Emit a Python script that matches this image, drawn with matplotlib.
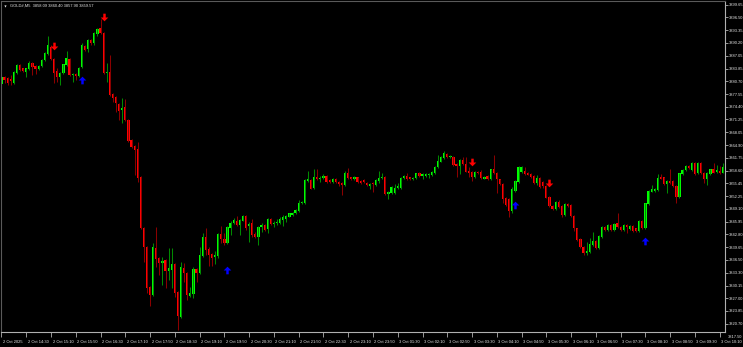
import numpy as np
import matplotlib.pyplot as plt
from matplotlib.path import Path
from matplotlib.transforms import ScaledTranslation

# GOLD#, M5 candles, 2 Oct 2025 13:50 onwards (one row = 10 bars)
opens = [
    3879.94, 3881.67, 3881.42, 3881.18, 3880.35, 3882.83, 3884.64, 3883.90, 3883.07, 3883.65,
    3885.14, 3884.56, 3883.65, 3884.48, 3885.96, 3887.36, 3889.26, 3886.13, 3883.32, 3881.84,
    3882.66, 3884.72, 3886.13, 3882.17, 3882.50, 3882.00, 3884.31, 3889.43, 3888.60, 3890.91,
    3890.09, 3892.31, 3893.80, 3892.56, 3882.83, 3883.07, 3877.55, 3876.89, 3875.07, 3873.59,
    3874.25, 3871.11, 3866.16, 3864.68, 3863.85, 3856.92, 3844.47, 3839.77, 3829.70, 3827.81,
    3839.36, 3836.88, 3835.64, 3836.47, 3833.83, 3834.00, 3835.48, 3828.63, 3822.45, 3834.58,
    3833.18, 3827.65, 3827.98, 3834.16, 3833.34, 3837.46, 3842.25, 3839.11, 3837.88, 3837.14,
    3837.46, 3842.83, 3841.59, 3840.76, 3844.31, 3845.71, 3846.21, 3845.05, 3846.21, 3847.36,
    3844.89, 3845.55, 3842.91, 3842.25, 3844.56, 3845.14, 3844.07, 3846.54, 3845.38, 3845.55,
    3845.71, 3846.37, 3846.70, 3847.20, 3847.61, 3848.02, 3848.60, 3850.50, 3850.50, 3856.11,
    3856.27, 3854.21, 3856.93, 3856.44, 3856.77, 3857.18, 3856.27, 3855.78, 3856.60, 3855.78,
    3855.45, 3855.03, 3858.09, 3856.93, 3856.44, 3856.93, 3856.02, 3856.27, 3855.61, 3854.87,
    3855.61, 3855.03, 3856.02, 3856.68, 3856.93, 3852.81, 3853.14, 3853.14, 3854.21, 3854.21,
    3856.68, 3857.26, 3856.93, 3856.44, 3856.85, 3858.09, 3857.26, 3857.26, 3857.43, 3857.51,
    3857.92, 3859.57, 3860.81, 3861.63, 3862.71, 3861.96, 3861.88, 3860.23, 3859.74, 3861.22,
    3860.23, 3858.58, 3858.33, 3856.93, 3858.33, 3858.33, 3856.60, 3857.26, 3856.44, 3858.91,
    3858.09, 3856.44, 3855.28, 3851.73, 3851.49, 3848.68, 3853.63, 3855.86, 3858.33, 3858.58,
    3858.09, 3857.76, 3857.26, 3855.61, 3856.68, 3855.86, 3854.79, 3851.98, 3849.84, 3849.01,
    3850.91, 3849.84, 3847.61, 3850.33, 3850.08, 3847.36, 3844.31, 3841.59, 3839.77, 3838.29,
    3838.54, 3840.19, 3841.26, 3839.36, 3842.25, 3844.56, 3843.90, 3845.14, 3843.90, 3845.55,
    3844.72, 3843.90, 3845.14, 3844.07, 3844.89, 3844.31, 3843.73, 3846.21, 3844.31, 3850.33,
    3853.38, 3853.63, 3853.80, 3857.10, 3856.93, 3855.28, 3856.11, 3856.02, 3854.79, 3852.15,
    3857.76, 3858.75, 3859.74, 3858.75, 3860.40, 3857.92, 3860.40, 3858.09, 3856.60, 3857.76,
    3858.91, 3858.25, 3858.58, 3858.09,
]
highs = [
    3882.10, 3881.90, 3881.67, 3882.25, 3883.30, 3885.00, 3884.90, 3884.10, 3884.10, 3885.60,
    3885.40, 3884.80, 3884.80, 3886.20, 3887.90, 3891.90, 3889.60, 3886.40, 3883.90, 3883.10,
    3885.10, 3888.19, 3886.40, 3882.80, 3882.80, 3884.30, 3890.25, 3889.70, 3891.10, 3891.20,
    3892.80, 3893.80, 3896.03, 3892.80, 3885.14, 3887.20, 3877.80, 3877.10, 3875.30, 3876.48,
    3876.23, 3871.40, 3866.40, 3864.90, 3865.75, 3857.20, 3844.70, 3840.00, 3830.00, 3840.76,
    3844.55, 3837.10, 3837.29, 3836.70, 3839.36, 3839.36, 3835.70, 3828.90, 3836.06, 3835.82,
    3833.40, 3829.87, 3834.82, 3834.40, 3839.77, 3843.24, 3844.31, 3839.77, 3838.10, 3838.78,
    3843.10, 3844.89, 3843.07, 3844.80, 3846.00, 3846.79, 3847.36, 3846.60, 3847.60, 3847.60,
    3845.96, 3846.54, 3843.49, 3844.80, 3845.55, 3845.40, 3846.80, 3846.79, 3846.13, 3846.54,
    3847.03, 3847.61, 3847.61, 3848.20, 3848.40, 3849.10, 3851.32, 3851.00, 3856.50, 3858.58,
    3856.50, 3858.91, 3858.91, 3857.26, 3857.76, 3857.40, 3856.50, 3856.80, 3856.80, 3856.00,
    3855.70, 3858.42, 3859.24, 3857.10, 3857.30, 3857.10, 3856.20, 3856.44, 3855.80, 3855.50,
    3855.80, 3856.50, 3858.50, 3858.09, 3857.20, 3853.60, 3854.79, 3855.28, 3855.45, 3857.10,
    3857.50, 3858.09, 3857.10, 3857.10, 3858.10, 3858.30, 3858.00, 3857.90, 3858.00, 3858.50,
    3859.80, 3862.46, 3862.10, 3863.45, 3863.04, 3862.50, 3862.10, 3860.50, 3861.50, 3861.88,
    3861.88, 3859.57, 3858.60, 3858.60, 3858.60, 3858.75, 3857.30, 3857.50, 3859.10, 3862.46,
    3858.30, 3856.60, 3855.50, 3852.00, 3851.70, 3854.62, 3856.20, 3859.74, 3859.80, 3859.41,
    3858.30, 3858.00, 3857.50, 3857.51, 3856.90, 3856.11, 3855.00, 3852.20, 3850.00, 3851.10,
    3851.32, 3850.00, 3850.50, 3850.50, 3850.30, 3847.60, 3844.50, 3841.80, 3840.00, 3841.01,
    3841.84, 3843.49, 3841.50, 3842.60, 3844.80, 3844.80, 3845.40, 3845.40, 3845.71, 3848.02,
    3844.90, 3845.40, 3845.40, 3845.10, 3845.10, 3844.50, 3846.40, 3846.40, 3850.70, 3853.80,
    3855.03, 3854.30, 3857.76, 3857.76, 3857.10, 3856.30, 3858.91, 3856.20, 3855.00, 3858.10,
    3858.90, 3859.90, 3859.90, 3860.60, 3860.60, 3860.60, 3860.60, 3858.30, 3858.30, 3859.10,
    3860.56, 3859.98, 3859.74, 3860.40,
]
lows = [
    3879.50, 3880.19, 3879.77, 3879.77, 3880.10, 3882.60, 3883.20, 3882.90, 3881.84, 3883.40,
    3882.25, 3882.50, 3883.40, 3884.20, 3885.70, 3887.10, 3885.90, 3880.35, 3880.60, 3879.77,
    3882.40, 3884.50, 3882.00, 3880.60, 3881.01, 3881.70, 3884.00, 3888.20, 3888.02, 3889.80,
    3889.80, 3892.00, 3892.30, 3882.50, 3880.60, 3877.00, 3875.65, 3873.18, 3871.11, 3870.29,
    3870.90, 3865.70, 3864.30, 3857.50, 3855.85, 3844.20, 3836.06, 3828.22, 3825.08, 3827.50,
    3834.82, 3832.76, 3830.28, 3829.46, 3831.52, 3829.46, 3827.39, 3819.14, 3822.03, 3831.11,
    3826.58, 3827.40, 3826.99, 3831.11, 3833.10, 3837.20, 3837.71, 3834.99, 3834.99, 3835.49,
    3836.89, 3840.60, 3840.19, 3840.50, 3842.66, 3845.50, 3844.90, 3842.66, 3846.00, 3843.90,
    3841.01, 3842.25, 3841.84, 3840.19, 3843.49, 3843.70, 3843.07, 3845.10, 3844.72, 3845.14,
    3845.38, 3844.89, 3845.96, 3847.00, 3847.40, 3847.80, 3848.40, 3850.30, 3850.30, 3855.86,
    3853.96, 3854.00, 3856.27, 3855.86, 3856.60, 3855.60, 3855.61, 3855.45, 3855.60, 3854.87,
    3852.56, 3854.80, 3856.50, 3856.20, 3856.20, 3855.60, 3855.30, 3855.50, 3854.70, 3854.13,
    3853.30, 3854.80, 3855.45, 3856.44, 3852.60, 3851.65, 3852.90, 3852.90, 3853.96, 3854.00,
    3856.50, 3856.27, 3856.20, 3856.20, 3856.60, 3857.00, 3856.50, 3857.00, 3856.68, 3857.30,
    3857.70, 3859.30, 3860.60, 3861.40, 3861.80, 3861.70, 3859.70, 3857.10, 3857.76, 3860.00,
    3858.17, 3857.10, 3856.11, 3856.70, 3857.70, 3856.40, 3856.40, 3856.20, 3856.20, 3857.70,
    3853.14, 3855.00, 3850.66, 3849.80, 3847.03, 3848.02, 3853.40, 3855.60, 3858.10, 3857.50,
    3857.40, 3856.70, 3855.40, 3855.03, 3854.40, 3854.21, 3851.70, 3849.60, 3848.90, 3848.80,
    3849.26, 3847.20, 3847.40, 3849.70, 3847.10, 3843.73, 3841.20, 3839.40, 3837.71, 3837.71,
    3838.12, 3840.00, 3839.10, 3839.10, 3842.00, 3843.70, 3843.70, 3843.70, 3843.70, 3844.30,
    3843.70, 3843.70, 3843.07, 3843.80, 3843.50, 3843.40, 3843.50, 3844.10, 3844.10, 3850.10,
    3853.20, 3853.40, 3853.60, 3856.40, 3855.00, 3853.14, 3855.40, 3854.60, 3850.50, 3851.90,
    3857.50, 3858.50, 3858.90, 3858.50, 3857.50, 3857.70, 3857.70, 3855.45, 3855.03, 3857.50,
    3857.90, 3858.00, 3857.76, 3857.90,
]
closes = [
    3881.84, 3881.01, 3880.35, 3880.68, 3883.07, 3884.72, 3883.49, 3883.16, 3883.90, 3885.30,
    3884.31, 3883.82, 3884.56, 3885.96, 3887.61, 3889.67, 3886.13, 3882.83, 3881.67, 3882.83,
    3884.89, 3886.37, 3882.25, 3882.50, 3882.00, 3884.07, 3889.67, 3888.44, 3890.91, 3890.09,
    3892.56, 3893.55, 3892.56, 3882.83, 3883.07, 3877.30, 3876.48, 3875.24, 3873.42, 3874.00,
    3871.11, 3865.99, 3864.51, 3863.69, 3856.68, 3844.47, 3839.77, 3829.46, 3827.81, 3839.60,
    3836.63, 3835.64, 3836.30, 3833.83, 3834.40, 3835.48, 3828.38, 3822.61, 3834.82, 3833.18,
    3827.81, 3828.22, 3834.16, 3833.34, 3837.71, 3842.25, 3838.95, 3837.71, 3836.89, 3837.71,
    3842.83, 3841.59, 3840.60, 3844.56, 3845.71, 3846.37, 3845.14, 3846.37, 3847.36, 3844.31,
    3845.38, 3842.66, 3842.25, 3844.56, 3845.14, 3843.90, 3846.54, 3845.38, 3845.71, 3845.96,
    3846.54, 3847.03, 3847.36, 3848.02, 3848.19, 3848.85, 3850.66, 3850.83, 3856.27, 3856.44,
    3854.05, 3856.93, 3856.44, 3856.85, 3857.34, 3855.86, 3855.86, 3856.60, 3855.78, 3855.28,
    3855.03, 3858.09, 3856.68, 3856.44, 3857.10, 3855.86, 3855.53, 3855.69, 3854.95, 3855.28,
    3855.20, 3856.27, 3856.85, 3857.10, 3852.81, 3853.38, 3854.46, 3854.21, 3854.79, 3856.85,
    3857.26, 3856.60, 3856.44, 3856.85, 3857.92, 3857.26, 3857.84, 3857.67, 3857.76, 3858.33,
    3859.57, 3861.06, 3861.88, 3862.87, 3862.05, 3862.29, 3859.98, 3859.74, 3861.22, 3860.23,
    3858.33, 3858.09, 3857.10, 3858.33, 3857.92, 3856.68, 3857.10, 3856.44, 3858.91, 3857.92,
    3856.44, 3855.28, 3851.49, 3850.00, 3848.68, 3853.96, 3856.02, 3859.57, 3859.57, 3857.76,
    3857.59, 3856.93, 3855.61, 3856.68, 3854.62, 3854.79, 3851.90, 3849.84, 3849.18, 3850.91,
    3849.51, 3847.61, 3850.33, 3849.92, 3847.36, 3844.31, 3841.42, 3839.61, 3838.29, 3838.78,
    3840.43, 3841.26, 3839.36, 3842.41, 3844.56, 3843.90, 3845.14, 3843.90, 3845.38, 3844.56,
    3843.90, 3845.14, 3844.72, 3844.89, 3843.73, 3843.65, 3846.21, 3844.31, 3850.50, 3853.63,
    3853.96, 3854.13, 3856.68, 3856.60, 3855.28, 3856.11, 3855.61, 3854.79, 3852.15, 3857.92,
    3858.75, 3859.74, 3859.16, 3860.40, 3857.76, 3860.40, 3857.92, 3856.44, 3858.09, 3858.91,
    3858.09, 3858.75, 3857.92, 3859.57,
]

# signal arrows (bar index, price)
sell_bars = [17, 33, 152, 177]
sell_prices = [3889.43, 3896.73, 3860.80, 3855.53]
buy_bars = [26, 73, 166, 208]
buy_prices = [3881.02, 3834.00, 3850.08, 3841.17]

price_labels = [3899.65, 3896.50, 3893.35, 3890.20, 3887.05, 3883.85, 3880.70, 3877.55,
                3874.40, 3871.25, 3868.05, 3864.90, 3861.75, 3858.60, 3855.45, 3852.25,
                3849.10, 3845.95, 3842.80, 3839.65, 3836.50, 3833.30, 3830.15, 3827.00,
                3823.85, 3820.70]
bottom_price_label = 3817.50

time_labels = ["2 Oct 2025", "2 Oct 14:30", "2 Oct 15:10", "2 Oct 15:50", "2 Oct 16:30",
               "2 Oct 17:10", "2 Oct 17:50", "2 Oct 18:30", "2 Oct 19:10", "2 Oct 19:50",
               "2 Oct 20:30", "2 Oct 21:10", "2 Oct 21:50", "2 Oct 22:30", "2 Oct 23:10",
               "2 Oct 23:50", "3 Oct 01:30", "3 Oct 02:10", "3 Oct 02:50", "3 Oct 03:30",
               "3 Oct 04:10", "3 Oct 04:50", "3 Oct 05:30", "3 Oct 06:10", "3 Oct 06:50",
               "3 Oct 07:30", "3 Oct 08:10", "3 Oct 08:50", "3 Oct 09:30", "3 Oct 10:10"]
bars_per_label = 8

header = "GOLD#,M5  3858.09 3860.40 3857.90 3859.57"

o = np.array(opens)
h = np.array(highs)
l = np.array(lows)
c = np.array(closes)
x = np.arange(len(c))
up = c >= o

fg = '#e8e8e8'
font = 'Liberation Sans'
fs = 2.9

fig = plt.figure(figsize=(7.43, 3.47), dpi=100, facecolor='black')
ax = fig.add_axes([1 / 743, 15 / 347, 724 / 743, 331 / 347], facecolor='black')

# wicks first, bodies on top
ax.vlines(x[up], l[up], h[up], color='#008a00', lw=0.75)
ax.vlines(x[~up], l[~up], h[~up], color='#8b0000', lw=0.75)
body_lo = np.minimum(o, c)
body_h = np.maximum(np.abs(c - o), 0.2)
ax.bar(x[up], body_h[up], bottom=body_lo[up], width=0.72, color='#00ff00', linewidth=0)
ax.bar(x[~up], body_h[~up], bottom=body_lo[~up], width=0.72, color='#ff0000', linewidth=0)

# arrow markers
up_arrow = Path([(0, 0.5), (0.5, 0.0), (0.16, 0.0), (0.16, -0.5), (-0.16, -0.5),
                 (-0.16, 0.0), (-0.5, 0.0), (0, 0.5)],
                [Path.MOVETO] + [Path.LINETO] * 6 + [Path.CLOSEPOLY])
down_arrow = Path(up_arrow.vertices * np.array([1, -1]), up_arrow.codes)
ax.plot(buy_bars, buy_prices, ls='none', marker=up_arrow, ms=5.5, color='#0000ff', mew=0)
ax.plot(sell_bars, sell_prices, ls='none', marker=down_arrow, ms=5.5, color='#ff0000', mew=0)

ax.set_xlim(-0.16, 233.7)
ax.set_ylim(3818.65, 3900.57)

for side in ['left', 'top']:
    ax.spines[side].set_color('#5a5a5a')
    ax.spines[side].set_linewidth(0.8)
for side in ['right', 'bottom']:
    ax.spines[side].set_color('#b0b0b0')
    ax.spines[side].set_linewidth(0.8)

# price axis on the right
ax.yaxis.tick_right()
ax.set_yticks(price_labels, [f'{p:.2f}' for p in price_labels])
ax.tick_params(axis='y', colors='#b0b0b0', labelcolor=fg, labelsize=fs, length=2, width=0.6, pad=0.8)
for t in ax.get_yticklabels():
    t.set_fontfamily(font)
ax.annotate(f'{bottom_price_label:.2f}', xy=(1, bottom_price_label),
            xycoords=('axes fraction', 'data'), xytext=(2.8, 0), textcoords='offset pixels',
            va='center', ha='left', fontsize=fs, color=fg, family=font, annotation_clip=False)

# time axis
xt = np.arange(len(time_labels)) * bars_per_label
ax.set_xticks(xt, time_labels)
ax.tick_params(axis='x', colors='#b0b0b0', labelcolor=fg, labelsize=fs, length=3.5, width=0.6, pad=2.6)
shift = ScaledTranslation(1.5 / 100, 0, fig.dpi_scale_trans)
for t in ax.get_xticklabels():
    t.set_fontfamily(font)
    t.set_ha('left')
    t.set_transform(t.get_transform() + shift)

# header
ax.text(0.012, 0.992, header, transform=ax.transAxes, ha='left', va='top',
        fontsize=fs, color=fg, family=font)
ax.plot([0.006], [0.986], transform=ax.transAxes, marker='v', ms=1.6, color=fg, mew=0)

fig.savefig('out.png', dpi=100, facecolor='black')
